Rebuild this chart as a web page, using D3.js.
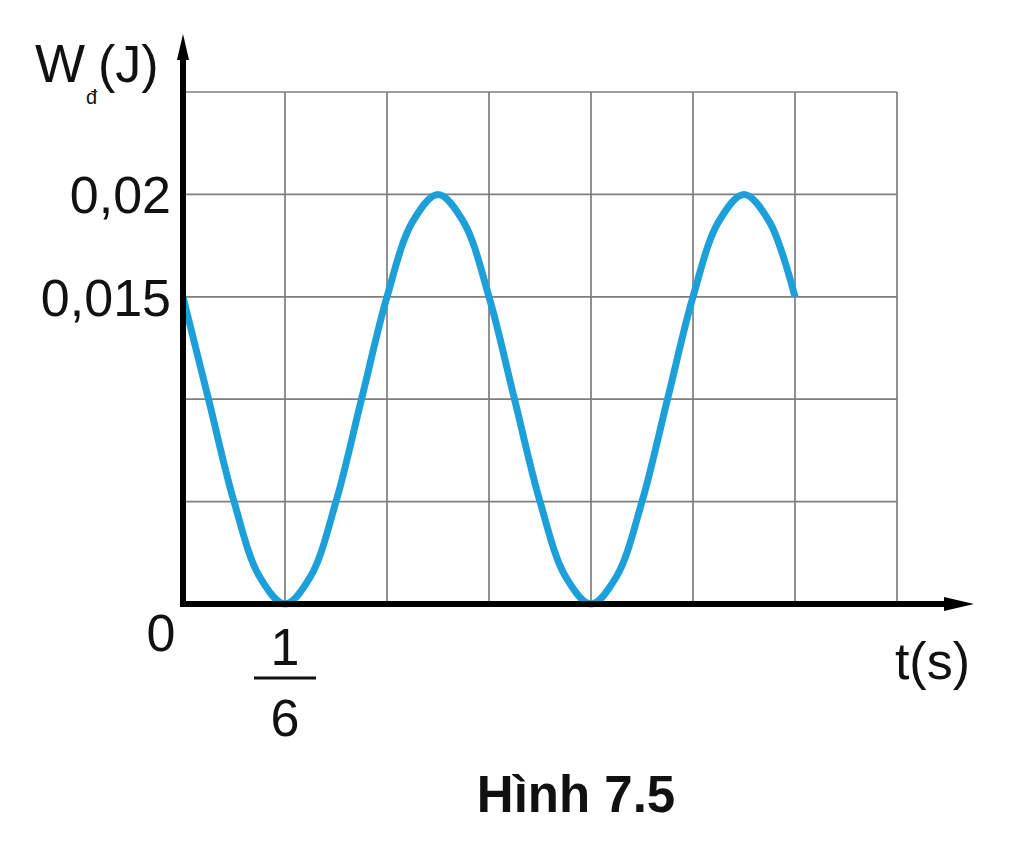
<!DOCTYPE html>
<html><head><meta charset="utf-8">
<script src="https://cdn.jsdelivr.net/npm/d3@7"></script>
<style>html,body{margin:0;padding:0;background:#fff;}svg{display:block;font-family:Arial,"Liberation Sans",sans-serif;}</style>
</head><body><svg id="c" width="1024" height="844"></svg>
<script>
// time in units of s (samples every 1/24 s)
const timeSteps = [0,1,2,3,4,5,6,7,8,9,10,11,12,13,14,15,16,17,18,19,20,21,22,23,24]; // x/24 s
const energyJ = [0.015,0.01,0.005,0.00134,0,0.00134,0.005,0.01,0.015,0.01866,0.02,0.01866,0.015,0.01,0.005,0.00134,0,0.00134,0.005,0.01,0.015,0.01866,0.02,0.01866,0.015];
const xGridSixths = [0,1,2,3,4,5,6,7];
const yGrid = [0,0.005,0.01,0.015,0.02,0.025];
const yTickLabels = [{v:0.02,t:"0,02"},{v:0.015,t:"0,015"}];

const svg = d3.select("#c");
const x = d3.scaleLinear().domain([0, 7/6]).range([183, 897]);
const y = d3.scaleLinear().domain([0, 0.025]).range([604, 92]);
const FS = 52;

// grid
svg.append("g").selectAll("line.v").data(xGridSixths.slice(1)).join("line")
  .attr("x1", d=>x(d/6)).attr("x2", d=>x(d/6)).attr("y1", y(0)).attr("y2", y(0.025))
  .attr("stroke","#7e7e7e").attr("stroke-width",1.7);
svg.append("g").selectAll("line.h").data(yGrid.slice(1)).join("line")
  .attr("x1", x(0)).attr("x2", x(7/6)).attr("y1", d=>y(d)).attr("y2", d=>y(d))
  .attr("stroke","#7e7e7e").attr("stroke-width",1.7);

// curve
const data = timeSteps.map((k,i)=>({t:k/24, w:energyJ[i]}));
svg.append("path").datum(data)
  .attr("d", d3.line().x(d=>x(d.t)).y(d=>y(d.w)).curve(d3.curveCatmullRom.alpha(0.5)))
  .attr("fill","none").attr("stroke","#1d9fd9").attr("stroke-width",7).attr("stroke-linecap","butt");

// axes
svg.append("line").attr("x1",x(0)).attr("x2",x(0)).attr("y1",y(0)+3).attr("y2",50)
  .attr("stroke","#000").attr("stroke-width",6);
svg.append("path").attr("d",`M${x(0)},34 L${x(0)-6},60 L${x(0)+6},60 Z`).attr("fill","#000");
svg.append("line").attr("x1",x(0)-3).attr("x2",955).attr("y1",y(0)).attr("y2",y(0))
  .attr("stroke","#000").attr("stroke-width",6);
svg.append("path").attr("d",`M974,${y(0)} L944,${y(0)-7} L944,${y(0)+7} Z`).attr("fill","#000");

// y tick labels
svg.selectAll("text.yl").data(yTickLabels).join("text")
  .attr("x",171).attr("y",d=>y(d.v)+19).attr("text-anchor","end")
  .attr("font-size",FS).attr("fill","#111").text(d=>d.t);

// origin & 1/6
svg.append("text").attr("x",161).attr("y",651).attr("text-anchor","middle").attr("font-size",FS).attr("fill","#111").text("0");
svg.append("text").attr("x",x(1/6)).attr("y",665).attr("text-anchor","middle").attr("font-size",FS).attr("fill","#111").text("1");
svg.append("line").attr("x1",x(1/6)-31).attr("x2",x(1/6)+31).attr("y1",678).attr("y2",678).attr("stroke","#111").attr("stroke-width",3);
svg.append("text").attr("x",x(1/6)).attr("y",736).attr("text-anchor","middle").attr("font-size",FS).attr("fill","#111").text("6");

// axis titles
svg.append("text").attr("x",970).attr("y",679).attr("text-anchor","end").attr("font-size",FS).attr("fill","#111").text("t(s)");
svg.append("text").attr("x",35).attr("y",82).attr("font-size",53).attr("fill","#111").text("W");
svg.append("text").attr("x",86).attr("y",104).attr("font-size",20).attr("fill","#111").text("đ");
svg.append("text").attr("x",98).attr("y",82).attr("font-size",52).attr("fill","#111").text("(J)");

// caption
svg.append("text").attr("x",576).attr("y",812).attr("text-anchor","middle").attr("font-size",51).attr("font-weight","bold").attr("fill","#111").text("Hình 7.5");
</script></body></html>
